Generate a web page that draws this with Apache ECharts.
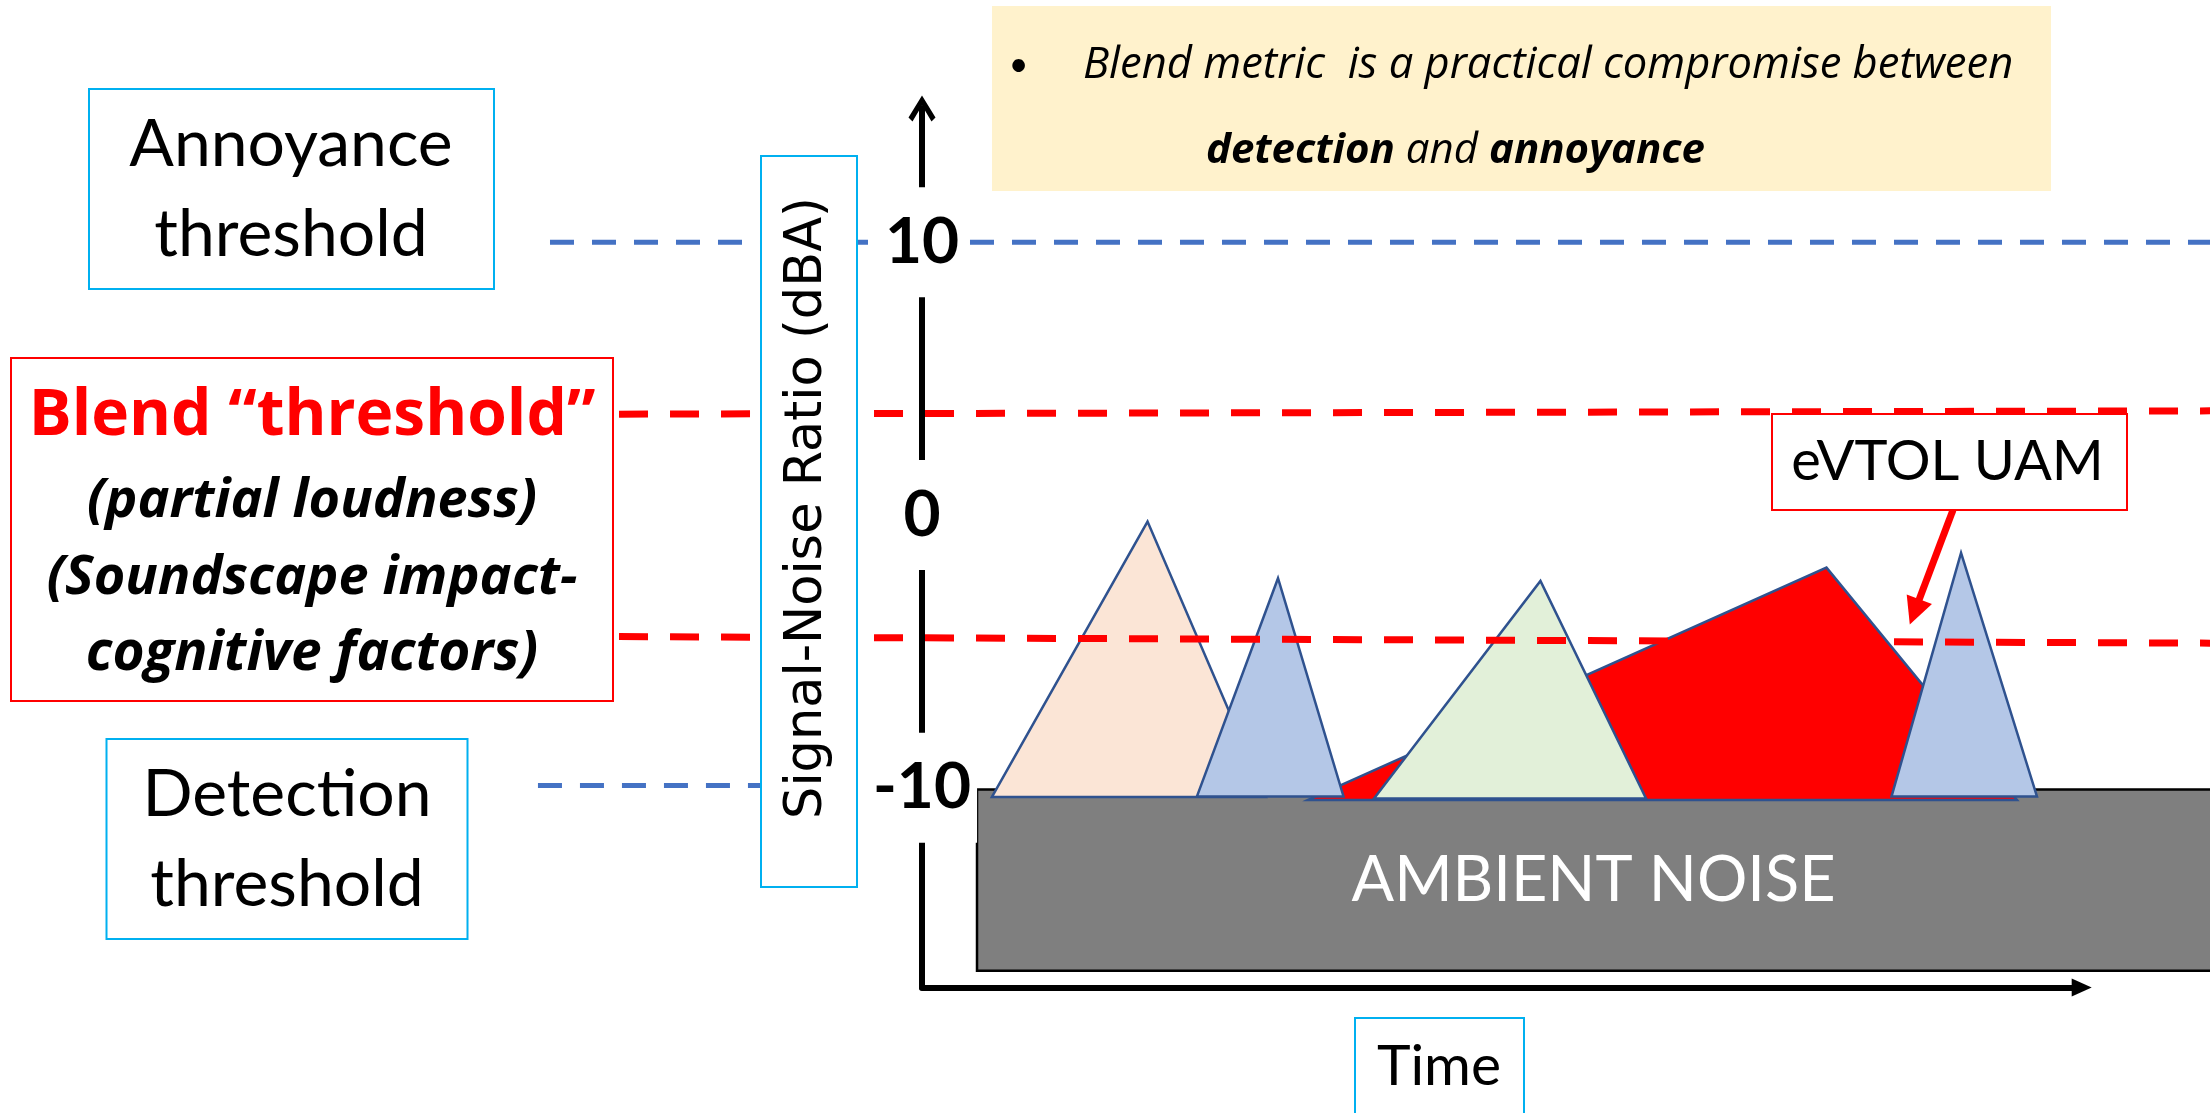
<!DOCTYPE html>
<html>
<head>
<meta charset="utf-8">
<script src="https://cdn.jsdelivr.net/npm/echarts@6/dist/echarts.min.js"></script>
<style>
  html, body { margin: 0; padding: 0; background: #fff; }
  #chart { width: 2210px; height: 1113px; }
</style>
</head>
<body>
<div id="chart"></div>
<script>
// Signal-to-noise ratio tick labels (dBA)
const snrTicks = [-10, 0, 10];

// Threshold lines, end points as [time, dBA]
const annoyanceLine = [[-31.85, 10], [112, 10]];
const blendUpperLine = [[-25.94, 3.70], [110.3, 3.82]];
const blendLowerLine = [[-25.94, -4.46], [110.3, -4.70]];
const detectionLine = [[-32.88, -9.92], [-10.45, -9.92]];

// Ambient noise band: [time start, time end, dBA bottom, dBA top]
const ambientBand = [4.71, 112, -16.72, -10.07];

// Noise events: [t start, dBA, t peak, dBA peak, t end, dBA]
const eventPeach = [5.99, -10.34, 19.31, -0.24, 29.45, -10.34];
const eventBlueA = [23.54, -10.32, 30.48, -2.32, 36.09, -10.32];
const eventEvtol = [33.05, -10.45, 77.44, -1.93, 93.75, -10.45];
const eventGreen = [38.70, -10.40, 52.95, -2.42, 61.99, -10.40];
const eventBlueB = [83.01, -10.32, 88.96, -1.39, 95.46, -10.32];

// Callout arrow towards the eVTOL event: [time, dBA] start and end
const calloutArrow = [[88.27, 0.18], [84.98, -3.55]];

const FONT = 'Lato';
const WIDE = '"Open Sans"';
const CYAN = '#00B0F0';
const OUTLINE = '#2F528F';

function eventSeries(name, values, fill) {
  return {
    type: 'custom',
    name: name,
    clip: false,
    data: [values],
    encode: { x: [0, 2, 4], y: [1, 3, 5] },
    renderItem: function (params, api) {
      const pts = [0, 2, 4].map(function (i) {
        return api.coord([api.value(i), api.value(i + 1)]);
      });
      return {
        type: 'polygon',
        shape: { points: pts },
        style: { fill: fill, stroke: OUTLINE, lineWidth: 2.5, lineJoin: 'miter' }
      };
    }
  };
}

// Dashed threshold line drawn through the axes' scales, allowed to run past the plot area
function thresholdSeries(name, points, color, width, dash) {
  return {
    type: 'custom',
    name: name,
    clip: false,
    silent: true,
    z: 3,
    data: [[points[0][0], points[0][1], points[1][0], points[1][1]]],
    encode: { x: [0, 2], y: [1, 3] },
    renderItem: function (params, api) {
      const a = api.coord([api.value(0), api.value(1)]);
      const b = api.coord([api.value(2), api.value(3)]);
      return {
        type: 'polyline',
        shape: { points: [a, b] },
        style: { fill: null, stroke: color, lineWidth: width, lineDash: dash, lineCap: 'butt' }
      };
    }
  };
}

function box(x, y, w, h, stroke, fill) {
  return {
    type: 'rect', z: 20,
    shape: { x: x, y: y, width: w, height: h },
    style: { fill: fill || '#fff', stroke: stroke, lineWidth: stroke ? 2 : 0 }
  };
}

function text(x, y, str, extra) {
  return {
    type: 'text', z: 21, x: x, y: y,
    style: Object.assign({
      text: str, fill: '#000', fontFamily: FONT, fontSize: 66,
      align: 'center', verticalAlign: 'middle'
    }, extra || {})
  };
}

const chart = echarts.init(document.getElementById('chart'));

chart.setOption({
  animation: false,
  backgroundColor: '#fff',
  grid: { left: 922, right: 128.3, top: 108.5, bottom: 125.5, outerBoundsMode: 'none', containLabel: false },
  xAxis: {
    type: 'value', min: 0, max: 99.29, z: 10,
    axisLine: {
      show: true, onZero: false,
      symbol: ['none', 'triangle'], symbolSize: [18, 20],
      lineStyle: { color: '#000', width: 6 }
    },
    axisTick: { show: false },
    axisLabel: { show: false },
    splitLine: { show: false }
  },
  yAxis: {
    type: 'value', min: -17.33, max: 14.91, z: 10,
    axisLine: {
      show: true, onZero: false,
      symbol: ['none', 'path://M13.5,0 L27,22 L23,26 L13.5,10 L4,26 L0,22 Z'],
      symbolSize: [27, 27],
      lineStyle: { color: '#000', width: 6 }
    },
    axisTick: { show: false },
    splitLine: { show: false },
    axisLabel: {
      show: true,
      customValues: snrTicks,
      margin: 0,
      align: 'center',
      verticalAlign: 'middle',
      color: '#000',
      fontFamily: FONT,
      fontWeight: 'bold',
      fontSize: 64,
      backgroundColor: '#fff',
      padding: [23, 6]
    }
  },
  series: [
    {
      type: 'custom',
      name: 'Ambient noise',
      clip: false,
      z: 1,
      data: [ambientBand],
      encode: { x: [0, 1], y: [2, 3] },
      renderItem: function (params, api) {
        const p0 = api.coord([api.value(0), api.value(3)]);
        const p1 = api.coord([api.value(1), api.value(2)]);
        const right = Math.min(p1[0], api.getWidth());
        return {
          type: 'group',
          children: [
            {
              type: 'rect',
              shape: { x: p0[0], y: p0[1], width: p1[0] - p0[0], height: p1[1] - p0[1] },
              style: { fill: '#7F7F7F', stroke: '#000', lineWidth: 2.5 }
            },
            {
              type: 'text',
              x: (p0[0] + right) / 2,
              y: (p0[1] + p1[1]) / 2,
              style: {
                text: 'AMBIENT NOISE', fill: '#fff', fontFamily: FONT, fontSize: 63,
                align: 'center', verticalAlign: 'middle'
              }
            }
          ]
        };
      }
    },
    eventSeries('Event 1', eventPeach, '#FBE5D6'),
    eventSeries('eVTOL UAM', eventEvtol, '#FF0000'),
    eventSeries('Event 2', eventBlueA, '#B4C7E7'),
    eventSeries('Event 3', eventGreen, '#E2F0D9'),
    eventSeries('Event 4', eventBlueB, '#B4C7E7'),
    thresholdSeries('Annoyance threshold', annoyanceLine, '#4472C4', 5, [24, 18]),
    thresholdSeries('Detection threshold', detectionLine, '#4472C4', 5, [24, 18]),
    thresholdSeries('Blend upper', blendUpperLine, '#FF0000', 7, [29, 22]),
    thresholdSeries('Blend lower', blendLowerLine, '#FF0000', 7, [29, 22]),
    {
      type: 'lines',
      name: 'Callout',
      coordinateSystem: 'cartesian2d',
      z: 4,
      silent: true,
      symbol: ['none', 'triangle'],
      symbolSize: 27,
      lineStyle: { color: '#FF0000', width: 7, opacity: 1, curveness: 0 },
      data: [{ coords: calloutArrow }]
    }
  ],
  graphic: [
    // note panel
    box(992, 6, 1059, 185, null, '#FFF2CC'),
    text(1018.5, 65, '\u2022', { fontSize: 34 }),
    text(1083, 65.5, 'Blend metric  is a practical compromise between',
      { fontFamily: WIDE, fontSize: 43.5, fontStyle: 'italic', align: 'left' }),
    text(1206, 151, '{b|detection}{n| and }{b|annoyance}', {
      fontFamily: WIDE, fontSize: 42, fontStyle: 'italic', align: 'left',
      rich: {
        b: { fontFamily: WIDE, fontSize: 42, fontStyle: 'italic', fontWeight: 'bold' },
        n: { fontFamily: WIDE, fontSize: 42, fontStyle: 'italic' }
      }
    }),

    // annoyance threshold label
    box(89, 89, 405, 200, CYAN),
    text(291, 145, 'Annoyance'),
    text(291, 235, 'threshold'),

    // blend threshold label
    box(11, 358, 602, 343, '#FF0000'),
    text(312, 417, 'Blend \u201Cthreshold\u201D', { fontFamily: WIDE, fontSize: 64, fill: '#FF0000', fontWeight: 'bold' }),
    text(312, 502, '(partial loudness)', { fontFamily: WIDE, fontSize: 54, fontWeight: 'bold', fontStyle: 'italic' }),
    text(312, 579, '(Soundscape impact-', { fontFamily: WIDE, fontSize: 54, fontWeight: 'bold', fontStyle: 'italic' }),
    text(312, 654, 'cognitive factors)', { fontFamily: WIDE, fontSize: 55, fontWeight: 'bold', fontStyle: 'italic' }),

    // detection threshold label
    box(106.5, 739, 361, 200, CYAN),
    text(287, 794.5, 'Detection'),
    text(287, 884.7, 'threshold'),

    // y axis title
    box(761, 156, 96, 731, CYAN),
    {
      type: 'text', z: 21, x: 808, y: 508, rotation: Math.PI / 2,
      style: {
        text: 'Signal-Noise Ratio (dBA)', fill: '#000',
        fontFamily: '"DejaVu Sans"', fontSize: 51,
        align: 'center', verticalAlign: 'middle'
      }
    },

    // x axis title
    box(1355, 1018, 169, 130, CYAN),
    text(1439, 1066.7, 'Time', { fontSize: 57 }),

    // eVTOL callout label
    box(1772, 414, 355, 96, '#FF0000'),
    text(1947.5, 461.7, 'eVTOL UAM', { fontSize: 56 })
  ]
});
</script>
</body>
</html>
